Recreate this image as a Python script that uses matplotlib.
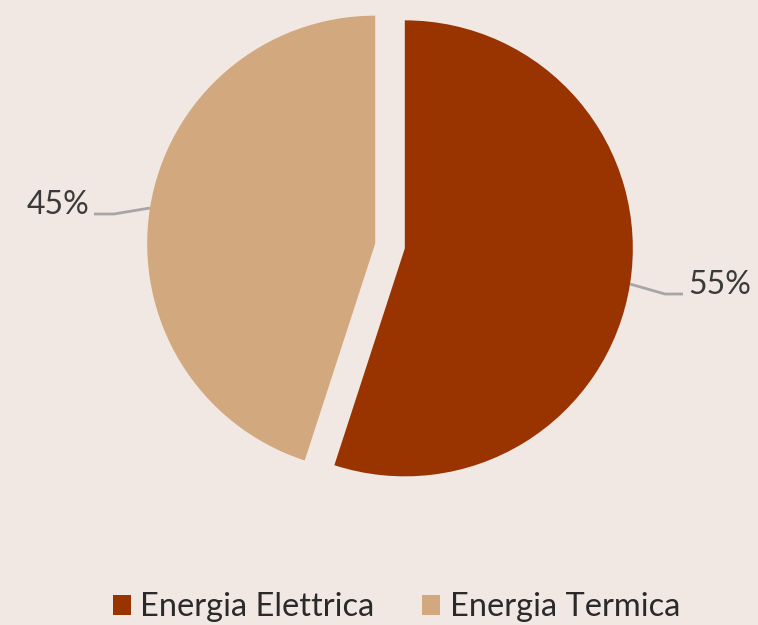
import numpy as np
import matplotlib.pyplot as plt

labels = ['Energia Elettrica', 'Energia Termica']
values = [55, 45]
colors = ['#993300', '#D2A97F']

bg = '#F1E8E3'
plt.rcParams['font.family'] = ['Lato', 'DejaVu Sans']

fig = plt.figure(figsize=(7.58, 6.25), dpi=100, facecolor=bg)
ax = fig.add_axes([0, 0, 1, 1])
ax.set_facecolor(bg)

# pie in pixel-like units (explode is absolute here, not a fraction)
r = 228
cx, cy = 390, 625 - 246
gap = 15
wedges, _ = ax.pie(values, colors=colors, radius=r, center=(cx, cy),
                   startangle=90, counterclock=False,
                   explode=[gap, gap], wedgeprops=dict(linewidth=0))

ax.set_xlim(0, 758)
ax.set_ylim(0, 625)
ax.set_aspect('equal')
ax.axis('off')

# leader lines + percentage labels
for w, v in zip(wedges, values):
    mid = np.deg2rad((w.theta1 + w.theta2) / 2)
    ox, oy = w.center
    x0 = ox + r * np.cos(mid)
    y0 = oy + r * np.sin(mid)
    side = np.sign(np.cos(mid))
    if side > 0:
        x1, y1, x2 = x0 + 35, y0 - 10, x0 + 53
    else:
        x1, y1, x2 = x0 - 36, y0 - 6, x0 - 56
    ax.plot([x0, x1, x2], [y0, y1, y1], color='#A6A6A6', lw=2, solid_capstyle='butt')
    ha = 'left' if side > 0 else 'right'
    ax.text(x2 + side * 5, y1, f'{v}%', ha=ha, va='baseline',
            fontsize=23, color='#3A3A3A')

fig.legend(wedges, labels, loc='lower center', ncol=2, frameon=False,
           bbox_to_anchor=(0.523, -0.043), fontsize=23.5, labelcolor='#2A2A2A',
           handlelength=0.55, handleheight=0.55, handletextpad=0.3,
           columnspacing=1.45)

fig.savefig('out.png', dpi=100, facecolor=bg)
